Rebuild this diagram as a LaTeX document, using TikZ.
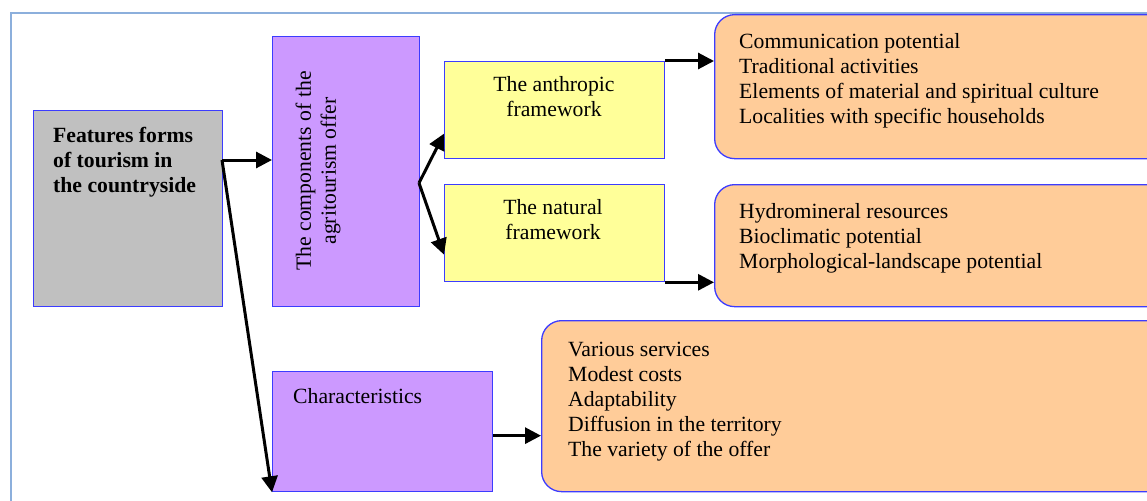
\documentclass[tikz,border=0pt]{standalone}
\usepackage{fontspec}
\setmainfont{Liberation Serif}
\usetikzlibrary{arrows.meta,calc}
\definecolor{bordblue}{RGB}{60,60,255}
\definecolor{framecol}{RGB}{140,175,220}
\definecolor{grayfill}{RGB}{192,192,192}
\definecolor{purplefill}{RGB}{204,153,255}
\definecolor{yellowfill}{RGB}{255,255,153}
\definecolor{orangefill}{RGB}{255,204,153}
\tikzset{
 box/.style={draw=bordblue, line width=1.3pt, inner sep=0pt, anchor=north west},
 graybox/.style={box, fill=grayfill},
 purplebox/.style={box, fill=purplefill},
 yellowbox/.style={box, fill=yellowfill},
 orangebox/.style={box, fill=orangefill, rounded corners=20pt},
 txt/.style={inner sep=0pt, font=\fontsize{21.7}{25}\selectfont, align=left, anchor=north west},
 conn/.style={line width=3pt, -{Triangle[length=16pt,width=16pt]}},
}
\begin{document}
\begin{tikzpicture}[x=1pt,y=-1pt]
\clip (0,0) rectangle (1147,500);
\fill[white] (0,0) rectangle (1147,500);
\draw[framecol, line width=1.5pt] (11,520) -- (11,13) -- (1160,13);
% boxes
\node[graybox, minimum width=189pt, minimum height=196pt] (g) at (33,110) {};
\node[purplebox, minimum width=147pt, minimum height=270pt] (p1) at (272,36) {};
\node[yellowbox, minimum width=220pt, minimum height=97pt] (y1) at (444,61) {};
\node[yellowbox, minimum width=220pt, minimum height=97pt] (y2) at (444,184) {};
\node[orangebox, minimum width=460pt, minimum height=144pt] (o1) at (714,14) {};
\node[orangebox, minimum width=460pt, minimum height=122pt] (o2) at (714,184) {};
\node[purplebox, minimum width=220pt, minimum height=120pt] (ch) at (272,371) {};
\node[orangebox, minimum width=640pt, minimum height=171pt] (o3) at (541,320) {};
% texts
\node[txt, font=\bfseries\fontsize{21.7}{25}\selectfont] (gt) at (53,124.5) {\strut Features forms\\of tourism in\\the countryside};
\node[txt, anchor=center, align=center, rotate=90] (p1t) at (318,171) {The components of the\\agritourism offer};
\node[txt, anchor=north, align=center] (y1t) at (554,73.5) {\strut The anthropic\\framework};
\node[txt, anchor=north, align=center] (y2t) at (553,196.5) {\strut The natural\\framework};
\node[txt] (o1t) at (739,30.5) {\strut Communication potential\\Traditional activities\\Elements of material and spiritual culture\\Localities with specific households};
\node[txt] (o2t) at (739,200.5) {\strut Hydromineral resources\\Bioclimatic potential\\Morphological-landscape potential};
\node[txt] (o3t) at (568,338.5) {\strut Various services\\Modest costs\\Adaptability\\Diffusion in the territory\\The variety of the offer};
\node[txt] (cht) at (293,385.5) {\strut Characteristics};
% connectors
\coordinate (gs) at (222,160);
\coordinate (ps) at (419,183);
\draw[conn] (gs) -- (gs -| p1.west);
\draw[conn] (gs) -- (ch.south west);
\draw[conn] (ps) -- ([yshift=-23.5pt]y1.west);
\draw[conn] (ps) -- ([yshift=-21.5pt]y2.west);
\draw[conn] (y1.north east) -- (y1.north east -| o1.west);
\draw[conn] (y2.south east) -- (y2.south east -| o2.west);
\draw[conn] ([yshift=-4pt]ch.east) -- ([yshift=-4pt]ch.east -| o3.west);
\end{tikzpicture}
\end{document}
